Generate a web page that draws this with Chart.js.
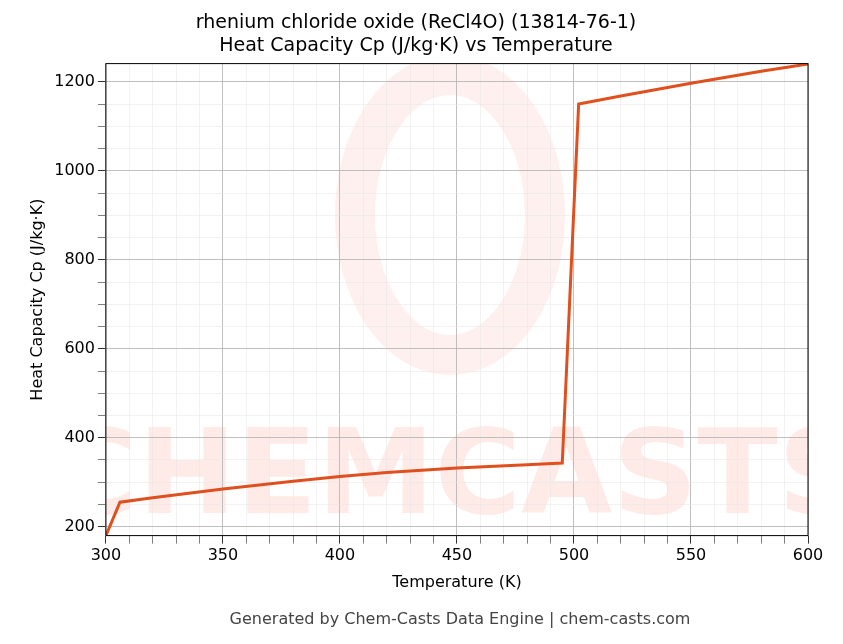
<!DOCTYPE html>
<html><head><meta charset="utf-8">
<script src="https://cdn.jsdelivr.net/npm/chart.js@4/dist/chart.umd.min.js"></script>
<style>body{margin:0;background:#fff}#w{width:843px;height:644px;position:relative}</style>
</head><body><div id="w"><canvas id="c" width="843" height="644"></canvas></div>
<script>
const temps = [300, 306, 320, 350, 380, 400, 420, 450, 480, 495, 502, 520, 550, 580, 600];
const cp =    [180, 255, 265, 285, 302, 313, 322, 332, 339, 343, 1150, 1168, 1197, 1224, 1240];
const xTicks = [300, 350, 400, 450, 500, 550, 600];
const yTicks = [200, 400, 600, 800, 1000, 1200];
const bg = {id:'bg',beforeDraw(ch){const c=ch.ctx,a=ch.chartArea;c.save();c.beginPath();c.rect(a.left,a.top,a.right-a.left,a.bottom-a.top);c.clip();c.fillStyle='rgba(250,128,114,0.16)';c.font='bold 118px DejaVu Sans';c.textAlign='center';c.textBaseline='middle';c.fillText('CHEMCASTS',(a.left+a.right)/2,482);c.lineWidth=40;c.strokeStyle='rgba(250,128,114,0.12)';c.beginPath();c.ellipse(450,215,95,140,0,0,Math.PI*2);c.stroke();c.restore();},
 afterDraw(ch){const c=ch.ctx,a=ch.chartArea;c.save();c.strokeStyle='#000';c.lineWidth=1;c.strokeRect(a.left,a.top,a.right-a.left,a.bottom-a.top);c.fillStyle='#444';c.font='16px DejaVu Sans';c.textAlign='center';c.fillText('Generated by Chem-Casts Data Engine | chem-casts.com',460,624);c.restore();}};
new Chart(document.getElementById('c'),{type:'line',
data:{datasets:[{data:temps.map((t,i)=>({x:t,y:cp[i]})),borderColor:'#e0501e',borderWidth:3,pointRadius:0,tension:0}]},
options:{responsive:false,animation:false,
layout:{padding:{left:24,right:35,top:12,bottom:48}},
plugins:{legend:{display:false},tooltip:{enabled:false},
title:{display:true,text:['rhenium chloride oxide (ReCl4O) (13814-76-1)','Heat Capacity Cp (J/kg·K) vs Temperature'],color:'#000',font:{family:'DejaVu Sans',size:19,weight:'normal'},padding:{top:0,bottom:6}}},
scales:{
x:{type:'linear',min:300,max:600,
 afterBuildTicks(ax){const t=[];for(let v=300;v<=600;v+=10)t.push({value:v});ax.ticks=t;},
 ticks:{autoSkip:false,maxRotation:0,color:'#000',font:{family:'DejaVu Sans',size:16},callback:v=>xTicks.includes(v)?v:''},
 grid:{color:c=>xTicks.includes(c.tick.value)?'#b0b0b0':'#e4e4e4',lineWidth:c=>xTicks.includes(c.tick.value)?0.8:0.5,tickColor:'#000'},
 title:{display:true,text:'Temperature (K)',color:'#000',font:{family:'DejaVu Sans',size:16}}},
y:{type:'linear',min:180,max:1241,
 afterBuildTicks(ax){const t=[];for(let v=200;v<=1200;v+=50)t.push({value:v});ax.ticks=t;},
 ticks:{autoSkip:false,color:'#000',font:{family:'DejaVu Sans',size:16},callback:v=>yTicks.includes(v)?v:''},
 grid:{color:c=>yTicks.includes(c.tick.value)?'#b0b0b0':'#e4e4e4',lineWidth:c=>yTicks.includes(c.tick.value)?0.8:0.5,tickColor:'#000'},
 title:{display:true,text:'Heat Capacity Cp (J/kg·K)',color:'#000',font:{family:'DejaVu Sans',size:16}}}}},
plugins:[bg]});
</script></body></html>
